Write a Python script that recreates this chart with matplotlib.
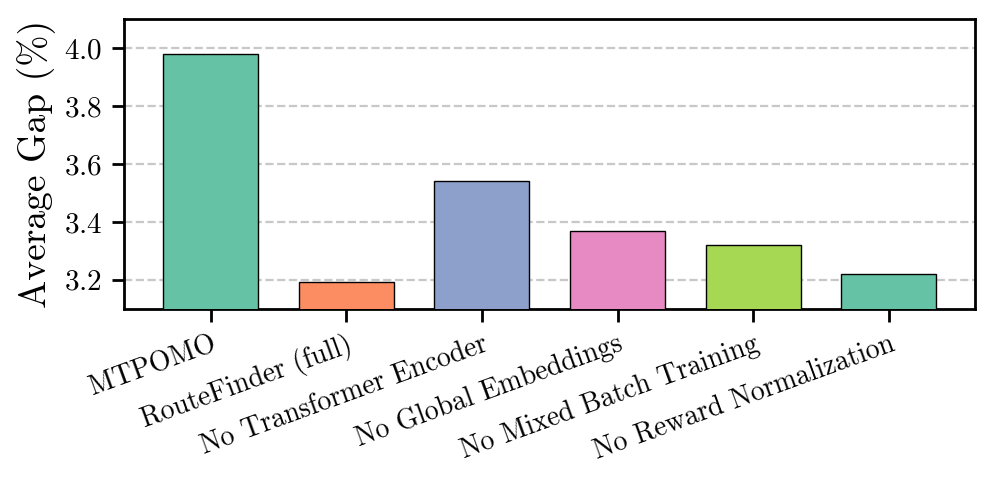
import matplotlib
matplotlib.use("Agg")
import matplotlib.pyplot as plt
import numpy as np

plt.rcParams['font.family'] = 'cmr10'
plt.rcParams['mathtext.fontset'] = 'cm'
plt.rcParams['axes.formatter.use_mathtext'] = True

methods = ["MTPOMO", "RouteFinder (full)", "No Transformer Encoder",
           "No Global Embeddings", "No Mixed Batch Training",
           "No Reward Normalization"]
avg_gap = [3.979, 3.193, 3.543, 3.370, 3.321, 3.221]
colors = ["#66c2a5", "#fc8d62", "#8da0cb", "#e78ac3", "#a6d854", "#66c2a5"]

fig, ax = plt.subplots(figsize=(4.975, 2.43), dpi=200)
x = np.arange(len(methods))
ax.bar(x, avg_gap, width=0.7, color=colors, edgecolor="black", linewidth=0.5, zorder=3)

ax.set_ylim(3.1, 4.1)
ax.set_yticks([3.2, 3.4, 3.6, 3.8, 4.0])
ax.set_xticks(x)
ax.set_xticklabels(methods, rotation=20, ha="right", fontsize=10, rotation_mode="anchor")
ax.tick_params(axis="y", labelsize=10.5, length=4.5, width=1)
ax.tick_params(axis="x", length=4.5, width=1)
ax.set_ylabel("Average Gap (%)", fontsize=13.5, labelpad=3)
ax.yaxis.grid(True, linestyle="--", color="#c8c8c8", linewidth=0.8, zorder=0)
ax.set_axisbelow(True)
for s in ax.spines.values():
    s.set_linewidth(1)

fig.subplots_adjust(left=0.125, right=0.98, top=0.96, bottom=0.365)
fig.savefig("out.png", dpi=200)
